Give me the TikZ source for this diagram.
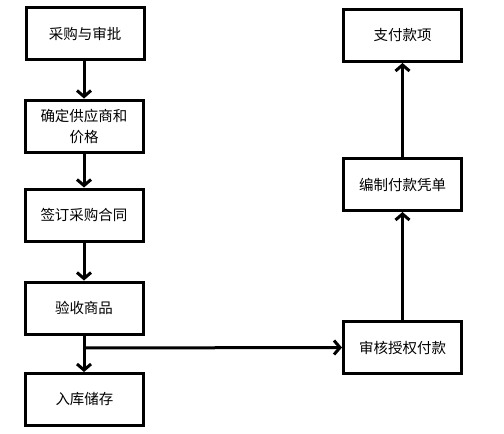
\documentclass[tikz,border=0pt]{standalone}
\usepackage{fontspec}
\newfontfamily\cjk{Noto Sans CJK SC}
\usetikzlibrary{arrows.meta}
\begin{document}
\begin{tikzpicture}[x=1pt,y=-1pt,
  stepbox/.style={draw,line width=3pt,minimum width=118pt,minimum height=52pt,inner sep=0pt,align=center,font=\cjk\fontsize{14.5pt}{21pt}\selectfont},
  flow/.style={line width=3pt,-{Straight Barb[length=6pt,width=14pt]}}]
\useasboundingbox (0,0) rectangle (504,434);
\node[stepbox] (b1) at (85,33.5) {采购与审批};
\node[stepbox] (b2) at (84,126) {确定供应商和\\价格};
\node[stepbox] (b3) at (84,215) {签订采购合同};
\node[stepbox] (b4) at (84,308) {验收商品};
\node[stepbox] (b5) at (84.5,399.5) {入库储存};
\node[stepbox] (a1) at (402.5,347.5) {审核授权付款};
\node[stepbox] (a2) at (402.5,184.5) {编制付款凭单};
\node[stepbox] (a3) at (402.5,35.5) {支付款项};
\coordinate (j) at (84,348);
\draw[flow] (b1.south -| b2.north) -- (b2.north);
\draw[flow] (b2) -- (b3);
\draw[flow] (b3) -- (b4);
\draw[flow] (b4.south) -- (b4.south |- b5.north);
\draw[flow] (j) -- (a1.west);
\draw[flow] (a1) -- (a2);
\draw[flow] (a2) -- (a3);
\end{tikzpicture}
\end{document}
